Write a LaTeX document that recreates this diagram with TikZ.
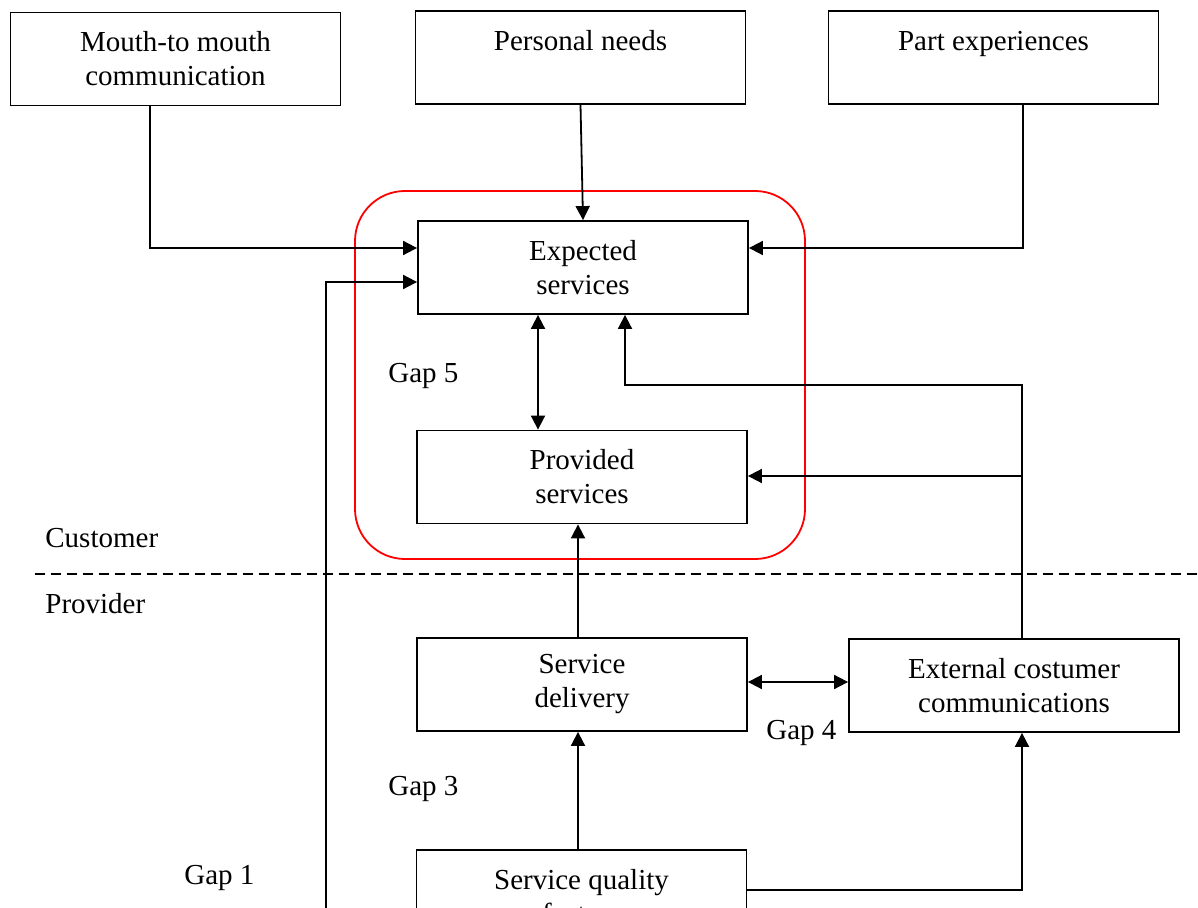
\documentclass[tikz,border=0pt]{standalone}
\usepackage{fontspec}
\setmainfont{Liberation Serif}
\usetikzlibrary{arrows.meta}
\begin{document}
\begin{tikzpicture}[x=0.5pt,y=-0.5pt,
  box/.style={draw,line width=0.9pt,minimum width=165pt,minimum height=46.5pt,align=center,inner sep=0pt,font=\fontsize{14.5}{17}\selectfont},
  lbl/.style={anchor=west,inner sep=0pt,font=\fontsize{14.5}{17}\selectfont},
  arr/.style={line width=0.9pt,-{Triangle[length=7pt,width=7pt]}},
  darr/.style={line width=0.9pt,{Triangle[length=7pt,width=7pt]}-{Triangle[length=7pt,width=7pt]}},
  sep/.style={line width=0.8pt,dash pattern=on 5pt off 3pt},
  zone/.style={draw=red,line width=0.9pt,rounded corners=25pt}]
\useasboundingbox (0,0) rectangle (1198,908);
\clip (0,0) rectangle (1198,908);

% zone and separator
\draw[zone] (355,191) rectangle (805,559);
\coordinate (sepL) at (35,574);
\coordinate (sepR) at (1210,574);
\draw[sep] (sepL) -- (sepR);

% boxes
\node[box] (mouth) at (175.5,59) {Mouth-to mouth\\communication};
\node[box] (needs) at (580.5,57.5) {Personal needs\\\phantom{x}};
\node[box] (past) at (993.5,57.5) {Part experiences\\\phantom{x}};
\node[box] (exp) at (583,267.5) {Expected\\services};
\node[box] (prov) at (582,477) {Provided\\services};
\node[box] (deliv) at (582,684.5) {Service\\delivery};
\node[box] (ext) at (1014,685.5) {External costumer\\communications};
\node[box] (sqf) at (581.5,896.5) {Service quality\\factors};

% labels
\node[lbl] (cust) at (45,538) {Customer};
\node[lbl] (provd) at (45,604) {Provider};
\node[lbl] (gap5) at (388,376) {Gap 5};
\node[lbl] (gap4) at (766,733) {Gap 4};
\node[lbl] (gap3) at (388,789) {Gap 3};
\node[lbl] (gap1) at (184,878) {Gap 1};

% connectors
\coordinate (m1) at (150,248);
\draw[arr] (mouth.south -| m1) -- (m1) -- (m1 -| exp.west);
\coordinate (g1) at (326,282);
\coordinate (g1b) at (326,940);
\draw[arr] (g1b) -- (g1) -- (g1 -| exp.west);
\draw[arr] (needs.south) -- (exp.north);
\coordinate (p1) at (1023,248);
\draw[arr] (past.south -| p1) -- (p1) -- (p1 -| exp.east);
\coordinate (g5) at (538,0);
\draw[darr] (exp.south -| g5) -- (prov.north -| g5);
\coordinate (e1) at (1022,385);
\coordinate (e2) at (625,385);
\draw[arr] (ext.north -| e1) -- (e1) -- (e2) -- (e2 |- exp.south);
\coordinate (e3) at (1022,476);
\draw[arr] (e3) -- (e3 -| prov.east);
\coordinate (c578) at (578,0);
\draw[arr] (deliv.north -| c578) -- (prov.south -| c578);
\coordinate (d1) at (0,682);
\draw[darr] (deliv.east |- d1) -- (ext.west |- d1);
\draw[arr] (sqf.north -| c578) -- (deliv.south -| c578);
\coordinate (s1) at (1022,890);
\draw[arr] (s1 -| sqf.east) -- (s1) -- (ext.south -| s1);
\end{tikzpicture}
\end{document}
